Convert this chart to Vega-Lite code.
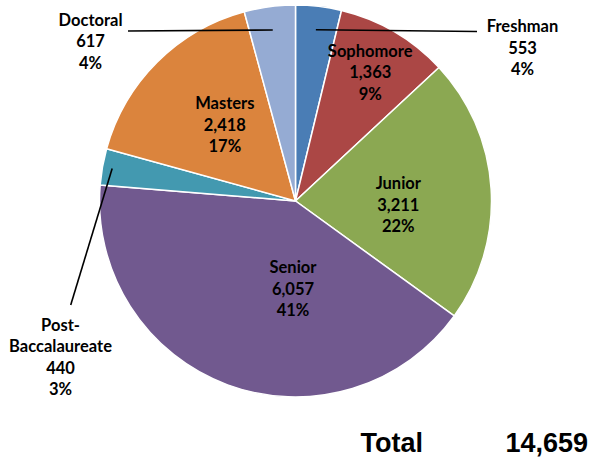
{
  "$schema": "https://vega.github.io/schema/vega-lite/v6.json",
  "width": 591,
  "height": 402,
  "padding": 0,
  "background": "white",
  "config": {"view": {"stroke": null}},
  "title": {
    "text": "Total\u00a0\u00a0\u00a0\u00a0\u00a0\u00a0\u00a0\u00a0\u00a0\u00a0\u00a014,659",
    "orient": "bottom",
    "anchor": "end",
    "frame": "group",
    "font": "Liberation Sans",
    "fontSize": 27,
    "fontWeight": "bold",
    "color": "#000000",
    "baseline": "alphabetic",
    "offset": 50,
    "dx": -3
  },
  "data": {
    "values": [
      {"order": 1, "category": "Freshman", "value": 553, "pct": "4%"},
      {"order": 2, "category": "Sophomore", "value": 1363, "pct": "9%"},
      {"order": 3, "category": "Junior", "value": 3211, "pct": "22%"},
      {"order": 4, "category": "Senior", "value": 6057, "pct": "41%"},
      {"order": 5, "category": "Post-Baccalaureate", "value": 440, "pct": "3%"},
      {"order": 6, "category": "Masters", "value": 2418, "pct": "17%"},
      {"order": 7, "category": "Doctoral", "value": 617, "pct": "4%"}
    ]
  },
  "transform": [
    {"window": [{"op": "sum", "field": "value", "as": "end"}], "sort": [{"field": "order"}], "frame": [null, 0]},
    {"joinaggregate": [{"op": "sum", "field": "value", "as": "total"}]},
    {"calculate": "datum.end - datum.value", "as": "start"},
    {"calculate": "datum.end - datum.value / 2", "as": "mid"},
    {"calculate": "2 * PI * datum.mid / datum.total", "as": "angle"},
    {"calculate": "replace(datum.category, '-', '-\\n') + '\\n' + format(datum.value, ',') + '\\n' + datum.pct", "as": "label"}
  ],
  "layer": [
    {
      "mark": {"type": "arc", "outerRadius": 196, "stroke": "white", "strokeWidth": 1.5},
      "encoding": {
        "theta": {"field": "start", "type": "quantitative", "stack": null, "scale": {"domain": [0, 14659]}},
        "theta2": {"field": "end"},
        "color": {
          "field": "category",
          "type": "nominal",
          "legend": null,
          "scale": {
            "domain": ["Freshman", "Sophomore", "Junior", "Senior", "Post-Baccalaureate", "Masters", "Doctoral"],
            "range": ["#4A7DB5", "#AB4745", "#8BA852", "#71598F", "#4399B0", "#DB843D", "#95ABD3"]
          }
        }
      }
    },
    {
      "transform": [{"filter": "datum.category == 'Sophomore'"}],
      "mark": {"type": "text", "radius": 148, "dy": -21.5, "font": "Lato", "fontSize": 16.5, "fontWeight": "bold", "lineBreak": "\n", "lineHeight": 21.5, "align": "center", "baseline": "middle", "color": "#000000"},
      "encoding": {
        "theta": {"field": "mid", "type": "quantitative", "stack": null, "scale": {"domain": [0, 14659]}},
        "text": {"field": "label"}
      }
    },
    {
      "transform": [{"filter": "datum.category == 'Junior'"}],
      "mark": {"type": "text", "radius": 103, "dy": -10.5, "font": "Lato", "fontSize": 16.5, "fontWeight": "bold", "lineBreak": "\n", "lineHeight": 21.5, "align": "center", "baseline": "middle", "color": "#000000"},
      "encoding": {
        "theta": {"field": "mid", "type": "quantitative", "stack": null, "scale": {"domain": [0, 14659]}},
        "text": {"field": "label"}
      }
    },
    {
      "transform": [{"filter": "datum.category == 'Senior'"}],
      "mark": {"type": "text", "radius": 88, "dx": 28, "dy": -15.5, "font": "Lato", "fontSize": 16.5, "fontWeight": "bold", "lineBreak": "\n", "lineHeight": 21.5, "align": "center", "baseline": "middle", "color": "#000000"},
      "encoding": {
        "theta": {"field": "mid", "type": "quantitative", "stack": null, "scale": {"domain": [0, 14659]}},
        "text": {"field": "label"}
      }
    },
    {
      "transform": [{"filter": "datum.category == 'Masters'"}],
      "mark": {"type": "text", "radius": 103, "dx": 2, "dy": -23.5, "font": "Lato", "fontSize": 16.5, "fontWeight": "bold", "lineBreak": "\n", "lineHeight": 21.5, "align": "center", "baseline": "middle", "color": "#000000"},
      "encoding": {
        "theta": {"field": "mid", "type": "quantitative", "stack": null, "scale": {"domain": [0, 14659]}},
        "text": {"field": "label"}
      }
    },
    {
      "transform": [
        {"filter": "indexof(['Freshman', 'Doctoral', 'Post-Baccalaureate'], datum.category) >= 0"},
        {"calculate": "(datum.category == 'Post-Baccalaureate' ? 0.95 : 0.88) * sin(datum.angle)", "as": "sx"},
        {"calculate": "(datum.category == 'Post-Baccalaureate' ? 0.95 : 0.88) * cos(datum.angle)", "as": "sy"},
        {"calculate": "datum.category == 'Freshman' ? 0.926 : datum.category == 'Doctoral' ? -0.8546 : -1.1469", "as": "ex"},
        {"calculate": "datum.category == 'Freshman' ? 0.8648 : datum.category == 'Doctoral' ? 0.8673 : -0.5306", "as": "ey"}
      ],
      "mark": {"type": "rule", "color": "#000000", "strokeWidth": 1.6},
      "encoding": {
        "x": {"field": "sx", "type": "quantitative", "axis": null, "scale": {"domain": [-1.5077, 1.5077], "nice": false, "zero": false}},
        "y": {"field": "sy", "type": "quantitative", "axis": null, "scale": {"domain": [-1.0255, 1.0255], "nice": false, "zero": false}},
        "x2": {"field": "ex"},
        "y2": {"field": "ey"}
      }
    },
    {
      "transform": [
        {"filter": "indexof(['Freshman', 'Doctoral', 'Post-Baccalaureate'], datum.category) >= 0"},
        {"calculate": "datum.category == 'Freshman' ? 1.1582 : datum.category == 'Doctoral' ? -1.0459 : -1.199", "as": "lx"},
        {"calculate": "datum.category == 'Freshman' ? 0.8852 : datum.category == 'Doctoral' ? 0.9184 : -0.6365", "as": "ly"}
      ],
      "mark": {"type": "text", "font": "Lato", "fontSize": 16.5, "fontWeight": "bold", "lineBreak": "\n", "lineHeight": 21.5, "align": "center", "baseline": "middle", "color": "#000000"},
      "encoding": {
        "x": {"field": "lx", "type": "quantitative", "axis": null, "scale": {"domain": [-1.5077, 1.5077], "nice": false, "zero": false}},
        "y": {"field": "ly", "type": "quantitative", "axis": null, "scale": {"domain": [-1.0255, 1.0255], "nice": false, "zero": false}},
        "text": {"field": "label"}
      }
    }
  ]
}
